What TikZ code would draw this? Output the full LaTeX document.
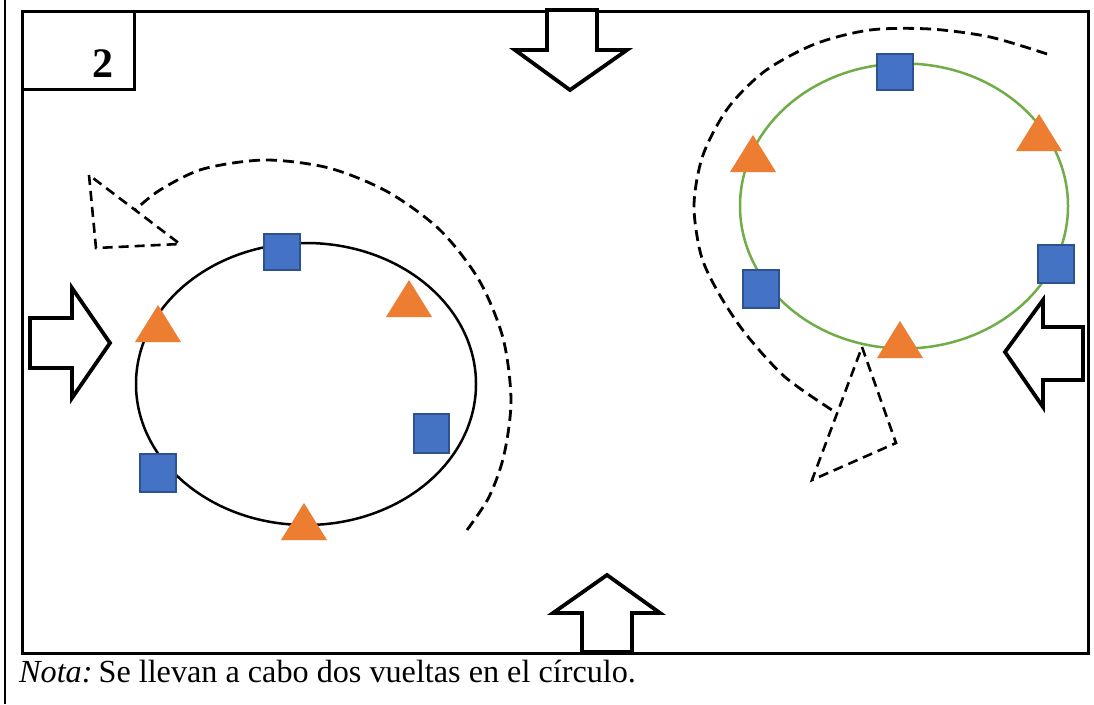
\documentclass[tikz,border=0pt]{standalone}
\usepackage{fontspec}
\setmainfont{Liberation Serif}
\usetikzlibrary{shapes.geometric}
\definecolor{sqblue}{HTML}{4472C4}
\definecolor{sqedge}{HTML}{2F528F}
\definecolor{triorange}{HTML}{ED7D31}
\definecolor{ringgreen}{HTML}{70AD47}
\tikzset{
  frameline/.style={line width=2.6pt, black},
  bigarrow/.style={line width=3.8pt, black, fill=white, line join=miter},
  sq/.style={rectangle, draw=sqedge, fill=sqblue, line width=2pt, minimum size=36pt, inner sep=0pt},
  ring/.style={ellipse, draw, line width=2.5pt, inner sep=0pt},
  dashline/.style={line width=2.8pt, dash pattern=on 11pt off 6pt},
  headline/.style={line width=2.6pt, dash pattern=on 10pt off 6pt, line join=miter},
  tri/.pic={\fill[triorange] (-23,0) -- (23,0) -- (0,-37) -- cycle;}
}
\begin{document}
\begin{tikzpicture}[x=1pt,y=-1pt]
\useasboundingbox (0,0) rectangle (1094,704);
\fill[white] (0,0) rectangle (1094,704);
% outer table line and inner frame
\coordinate (ot) at (5,0);
\coordinate (ob) at (5,704);
\draw[frameline] (ot) -- (ob);
\node[draw, frameline, minimum width=1066pt, minimum height=642pt, inner sep=0pt, anchor=north west] (frame) at (21,10) {};
% label box
\node[draw, frameline, minimum width=112pt, minimum height=78pt, inner sep=0pt, anchor=north west] (lbl) at (21,10) {};
\node[font=\bfseries\fontsize{42}{42}\selectfont, anchor=base, inner sep=0pt] (num) at (103,77) {2};
% block arrows
\draw[bigarrow] (547,10) -- (597,10) -- (597,50) -- (627,50) -- (570,90) -- (515,50) -- (547,50) -- cycle;
\draw[bigarrow] (30,318) -- (72,318) -- (72,288) -- (110,343) -- (72,398) -- (72,368) -- (30,368) -- cycle;
\draw[bigarrow] (1083,327) -- (1043,327) -- (1043,300) -- (1005,352) -- (1043,407) -- (1043,380) -- (1083,380) -- cycle;
\draw[bigarrow] (582,652) -- (582,613) -- (553,613) -- (607,575) -- (660,613) -- (632,613) -- (632,652) -- cycle;
% left ring
\node[ring, minimum width=340pt, minimum height=282pt] (c1) at (306,384) {};
\node[sq] (a1) at (282,252) {};
\node[sq, minimum width=35pt, minimum height=39pt] (a2) at (431,433) {};
\node[sq, minimum height=38pt] (a3) at (158,473) {};
\pic at (158,342) {tri};
\pic at (409,317) {tri};
\pic at (304,540) {tri};
% right ring
\node[ring, draw=ringgreen, minimum width=328pt, minimum height=285pt] (c2) at (904,206) {};
\node[sq] (b1) at (895,72) {};
\node[sq, minimum height=38pt] (b2) at (761,289) {};
\node[sq, minimum height=38pt] (b3) at (1056,264) {};
\pic at (753,172) {tri};
\pic at (1039,151) {tri};
\pic at (900,358) {tri};
% left dashed turn arrow
\coordinate (h1a) at (89,175);
\coordinate (h1b) at (96,248);
\coordinate (h1c) at (180,244);
\coordinate (e1) at (135,210);
\draw[headline] (h1a) -- (h1b) -- (h1c) -- cycle;
\draw[dashline] plot[smooth] coordinates {(467,530) (489,497) (504,455) (511,400) (503,338) (479,280) (440,230) (388,192) (329,168) (265,160) (203,169) (160,190) (e1)};
% right dashed turn arrow
\coordinate (h2a) at (862,347);
\coordinate (h2b) at (896,443);
\coordinate (h2c) at (812,480);
\coordinate (e2) at (835,412);
\draw[headline] (h2a) -- (h2b) -- (h2c) -- cycle;
\draw[dashline] plot[smooth] coordinates {(1047,54) (990,37) (930,29) (870,30) (815,44) (765,71) (728,108) (703,155) (694,205) (701,255) (718,292) (745,333) (785,377) (e2)};
% note
\node[anchor=base west, inner sep=0pt, font=\fontsize{32.2}{32.2}\selectfont] (nota) at (19,682) {\textit{Nota:}\kern-2pt\ Se llevan a cabo dos vueltas en el círculo.};
\end{tikzpicture}
\end{document}
